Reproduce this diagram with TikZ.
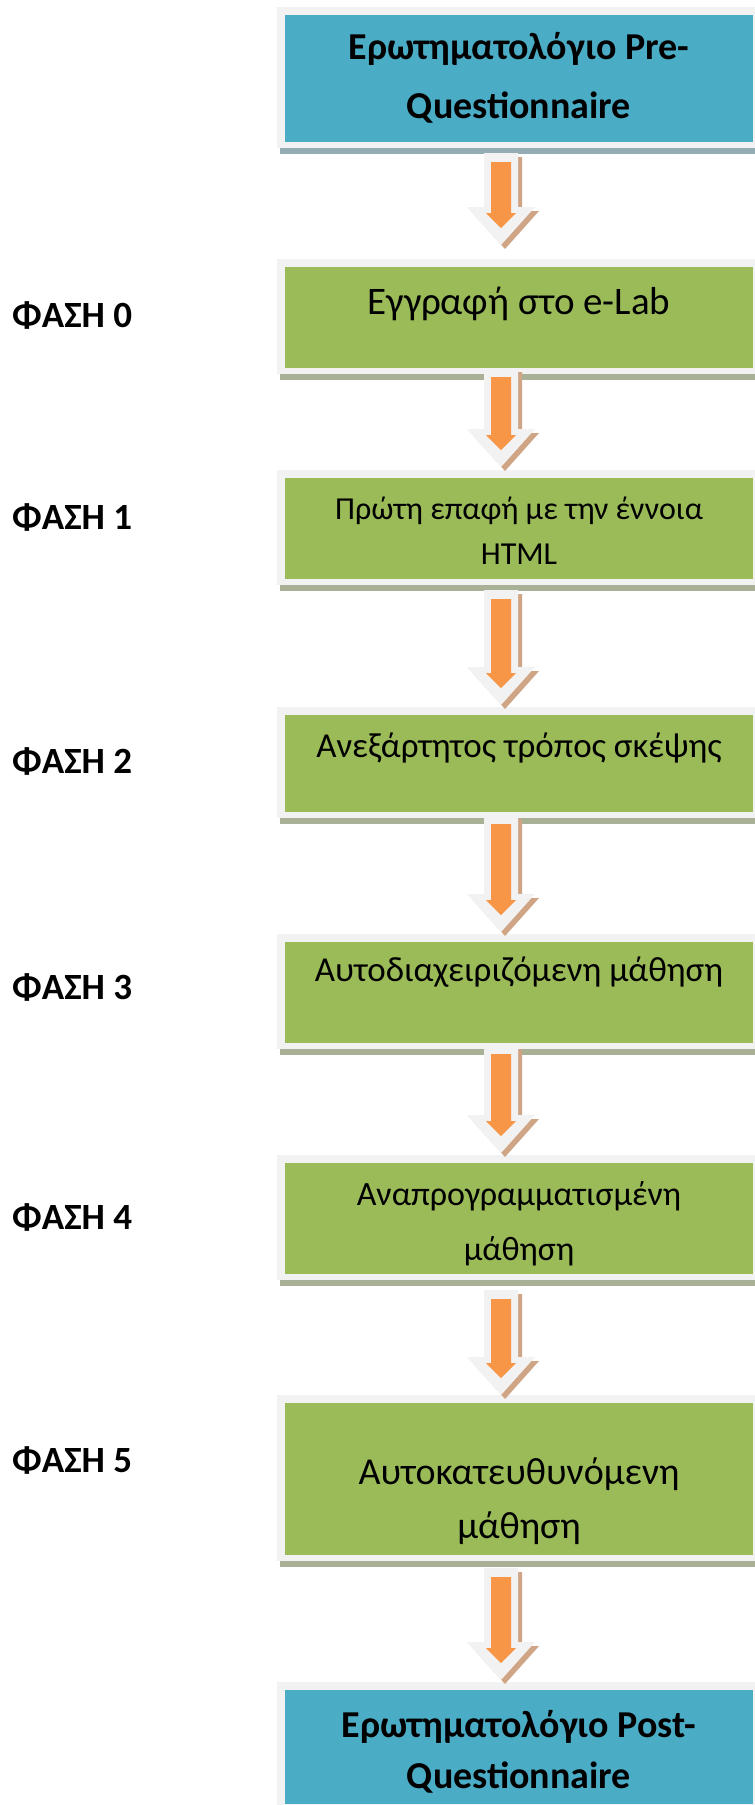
\documentclass[tikz,border=0pt]{standalone}
\usepackage{fontspec}
\setmainfont{Carlito}
\usetikzlibrary{calc}

\definecolor{framegray}{HTML}{F2F2F2}
\definecolor{aquafill}{HTML}{4BACC6}
\definecolor{greenfill}{HTML}{9BBB59}
\definecolor{orangefill}{HTML}{F79646}
\definecolor{aquashadow}{HTML}{94ACB4}
\definecolor{greenshadow}{HTML}{A8B196}
\definecolor{arrowshadow}{HTML}{CFA586}

\tikzset{
  phaselabel/.style={anchor=base west, inner sep=0, font=\fontsize{37}{44}\selectfont\bfseries},
  boxtext/.style={anchor=base, inner sep=0, align=center},
}

% one stage: shadow band, light frame, coloured panel (named node)
% #1 name, #2 frame top, #3 frame bottom, #4 panel colour, #5 shadow colour
\newcommand\stagebox[5]{%
  \fill[#5] (280,{#3}) rectangle (755,{#3+6});
  \fill[framegray] (277,{#2}) rectangle (755,{#3});
  \node[fill=#4, anchor=north west, minimum width=468, minimum height={#3-#2-14},
        inner sep=0, outer sep=0] (#1) at (285,{#2+8}) {};
}

% block arrow from coordinate #1 (top of shaft) to coordinate #2 (tip)
\newcommand\blockarrow[2]{%
  \path let \p1=(#1), \p2=(#2) in
    [fill=arrowshadow, shift={(4pt,-4pt)}]
      (\x1-17pt,\y1) -- (\x1+17pt,\y1) -- (\x1+17pt,\y2+38pt) -- (\x1+34pt,\y2+38pt)
      -- (\x1,\y2) -- (\x1-34pt,\y2+38pt) -- (\x1-17pt,\y2+38pt) -- cycle;
  \path let \p1=(#1), \p2=(#2) in
    [fill=framegray]
      (\x1-17pt,\y1) -- (\x1+17pt,\y1) -- (\x1+17pt,\y2+38pt) -- (\x1+34pt,\y2+38pt)
      -- (\x1,\y2) -- (\x1-34pt,\y2+38pt) -- (\x1-17pt,\y2+38pt) -- cycle;
  \path let \p1=(#1), \p2=(#2) in
    [fill=orangefill]
      (\x1-10pt,\y1-9pt) -- (\x1+10pt,\y1-9pt) -- (\x1+10pt,\y2+32pt) -- (\x1+15pt,\y2+32pt)
      -- (\x1,\y2+17pt) -- (\x1-15pt,\y2+32pt) -- (\x1-10pt,\y2+32pt) -- cycle;
}

\begin{document}
\begin{tikzpicture}[x=1pt,y=-1pt]
\useasboundingbox (0,0) rectangle (755,1805);
\clip (0,0) rectangle (755,1805);
\fill[white] (0,0) rectangle (755,1805);

% stages
\stagebox{pre}{7}{148}{aquafill}{aquashadow}
\stagebox{s0}{259}{374}{greenfill}{greenshadow}
\stagebox{s1}{470}{585}{greenfill}{greenshadow}
\stagebox{s2}{707}{818}{greenfill}{greenshadow}
\stagebox{s3}{934}{1049}{greenfill}{greenshadow}
\stagebox{s4}{1155}{1280}{greenfill}{greenshadow}
\stagebox{s5}{1395}{1561}{greenfill}{greenshadow}
\stagebox{post}{1682}{1810}{aquafill}{aquashadow}

% texts inside the stages (base anchor = baseline of the last line)
\node[boxtext, font=\fontsize{38}{59}\selectfont\bfseries] (tpre) at (519,118)
  {Ερωτηματολόγιο Pre-\\Questionnaire};
\node[boxtext, font=\fontsize{39}{46}\selectfont] (t0) at (519,314) {Εγγραφή στο e-Lab};
\node[boxtext, font=\fontsize{32}{45}\selectfont] (t1) at (519,564)
  {Πρώτη επαφή με την έννοια\\HTML};
\node[boxtext, font=\fontsize{35}{42}\selectfont] (t2) at (519,757) {Ανεξάρτητος τρόπος σκέψης};
\node[boxtext, font=\fontsize{35}{42}\selectfont] (t3) at (519,981) {Αυτοδιαχειριζόμενη μάθηση};
\node[boxtext, font=\fontsize{34}{55}\selectfont] (t4) at (519,1260)
  {Αναπρογραμματισμένη\\μάθηση};
\node[boxtext, font=\fontsize{38}{54}\selectfont] (t5) at (519,1538)
  {Αυτοκατευθυνόμενη\\μάθηση};
\node[boxtext, font=\fontsize{38}{51}\selectfont\bfseries] (tpost) at (519,1788)
  {Ερωτηματολόγιο Post-\\Questionnaire};

% phase labels
\node[phaselabel] (p0) at (12,327) {ΦΑΣΗ 0};
\node[phaselabel] (p1) at (12,529) {ΦΑΣΗ 1};
\node[phaselabel] (p2) at (12,773) {ΦΑΣΗ 2};
\node[phaselabel] (p3) at (12,999) {ΦΑΣΗ 3};
\node[phaselabel] (p4) at (12,1229) {ΦΑΣΗ 4};
\node[phaselabel] (p5) at (12,1472) {ΦΑΣΗ 5};

% arrows between stages
\coordinate (a1s) at (501,153);  \coordinate (a1e) at (501,245);
\coordinate (a2s) at (501,368);  \coordinate (a2e) at (501,467);
\coordinate (a3s) at (501,590);  \coordinate (a3e) at (501,705);
\coordinate (a4s) at (501,815);  \coordinate (a4e) at (501,932);
\coordinate (a5s) at (501,1045); \coordinate (a5e) at (501,1153);
\coordinate (a6s) at (501,1290); \coordinate (a6e) at (501,1395);
\coordinate (a7s) at (501,1568); \coordinate (a7e) at (501,1680);
\blockarrow{a1s}{a1e}
\blockarrow{a2s}{a2e}
\blockarrow{a3s}{a3e}
\blockarrow{a4s}{a4e}
\blockarrow{a5s}{a5e}
\blockarrow{a6s}{a6e}
\blockarrow{a7s}{a7e}
\end{tikzpicture}
\end{document}
